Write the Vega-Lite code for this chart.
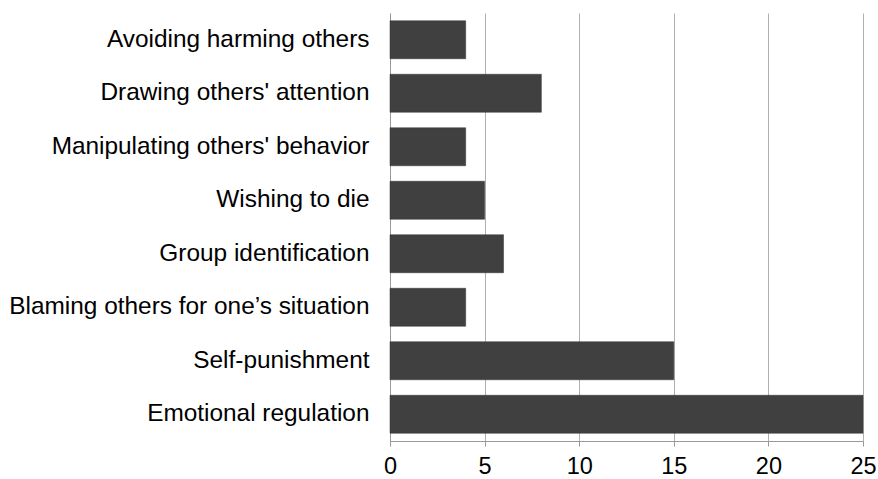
{
  "$schema": "https://vega.github.io/schema/vega-lite/v6.json",
  "autosize": "none",
  "padding": {"left": 390, "top": 13, "right": 15, "bottom": 38},
  "width": 473,
  "height": 428,
  "background": "white",
  "config": {"view": {"stroke": null}, "font": "Liberation Sans"},
  "data": {"values": [
    {"reason": "Avoiding harming others", "count": 4},
    {"reason": "Drawing others' attention", "count": 8},
    {"reason": "Manipulating others' behavior", "count": 4},
    {"reason": "Wishing to die", "count": 5},
    {"reason": "Group identification", "count": 6},
    {"reason": "Blaming others for one’s situation", "count": 4},
    {"reason": "Self-punishment", "count": 15},
    {"reason": "Emotional regulation", "count": 25}
  ]},
  "mark": {"type": "bar", "color": "#404040", "stroke": "#333333", "strokeWidth": 0.5},
  "encoding": {
    "y": {
      "field": "reason", "type": "nominal", "sort": null,
      "scale": {"paddingInner": 0.29, "paddingOuter": 0.145},
      "axis": {
        "title": null, "ticks": false, "domain": true, "domainColor": "#999999",
        "labelFontSize": 24.4, "labelColor": "#000000", "labelPadding": 21, "labelLimit": 400
      }
    },
    "x": {
      "field": "count", "type": "quantitative",
      "scale": {"domain": [0, 25], "nice": false},
      "axis": {
        "title": null, "values": [0, 5, 10, 15, 20, 25], "grid": true, "gridColor": "#b0b0b0",
        "domainColor": "#999999", "tickColor": "#999999", "tickSize": 5,
        "labelFontSize": 23.5, "labelColor": "#000000", "labelPadding": 8, "labelFlush": false
      }
    }
  }
}
